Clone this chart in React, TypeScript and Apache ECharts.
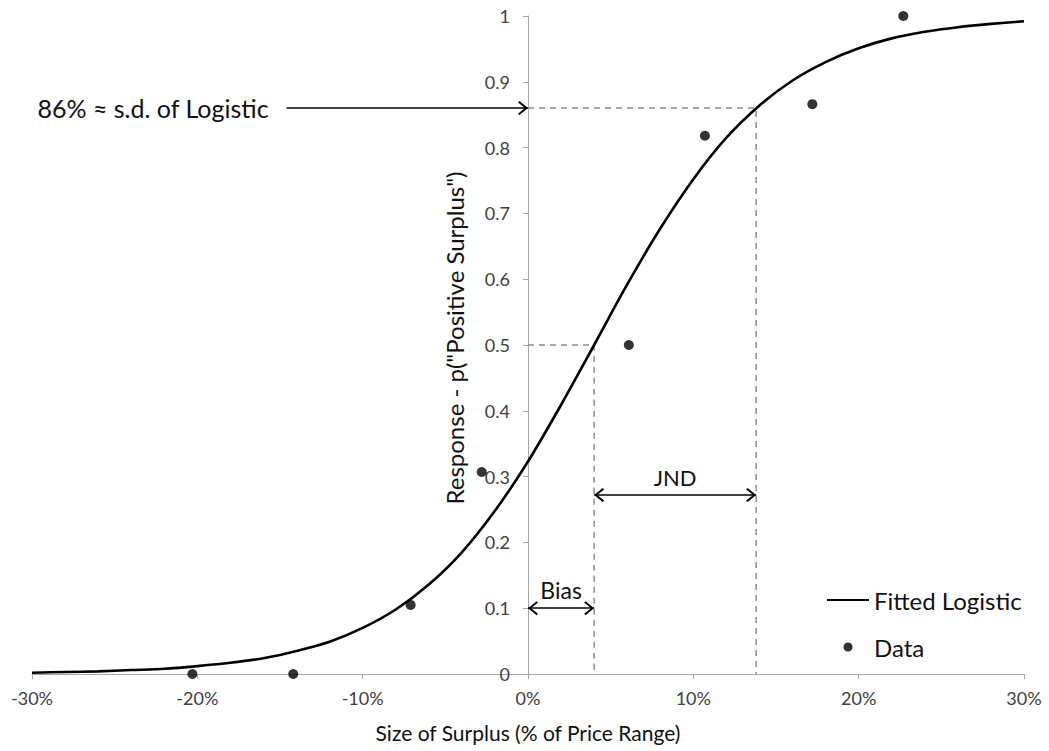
import React, { useEffect, useRef } from "react";
import * as echarts from "echarts";

// Fitted logistic curve (x in % of price range)
const curveX = [-30, -28, -26, -24, -22, -20, -18, -16, -14, -12, -10, -8, -6, -4, -2, 0, 2, 4, 6, 8, 10, 12, 14, 16, 18, 20, 22, 24, 26, 28, 30];
const curveY = [0.002, 0.003, 0.004, 0.006, 0.008, 0.012, 0.017, 0.024, 0.035, 0.049, 0.07, 0.098, 0.136, 0.185, 0.248, 0.323, 0.409, 0.5, 0.592, 0.677, 0.752, 0.815, 0.864, 0.902, 0.93, 0.951, 0.966, 0.976, 0.983, 0.988, 0.992];

// Observed data points
const dataX = [-20.3, -14.2, -7.1, -2.8, 6.1, 10.7, 17.2, 22.7];
const dataY = [0, 0, 0.105, 0.307, 0.5, 0.818, 0.866, 1.0];

// Axis ranges
const X_MIN = -30;
const X_MAX = 30;
const X_STEP = 10;
const Y_MIN = 0;
const Y_MAX = 1;
const Y_STEP = 0.1;

// Annotation values
const biasX = 4.0;
const jndEndX = 13.8;
const sdLevel = 0.86;
const midLevel = 0.5;
const jndArrowY = 0.272;
const biasArrowY = 0.1;
const sdArrowStartX = -14.6;

const FONT = "Lato, 'Noto Sans', sans-serif";
const CHEVRON = "path://M7,0 L14,8.6 L12.6,10 L7,3 L1.4,10 L0,8.6 Z";

const W = 1049;
const H = 751;
const GRID = { left: 32, right: 25, top: 16, bottom: 77 };

export default function App() {
  const ref = useRef<HTMLDivElement>(null);
  useEffect(() => {
    if (!ref.current) return;
    const chart = echarts.init(ref.current, null, { renderer: "svg" });
    const curve = curveX.map((x, i) => [x, curveY[i]]);
    const pts = dataX.map((x, i) => [x, dataY[i]]);
    const arrowEnd = { symbol: CHEVRON, symbolSize: [14, 10], symbolOffset: [0, 5] };
    // move the y axis onto x = 0
    const gridWidth = W - GRID.left - GRID.right;
    const yAxisOffset = -gridWidth * ((0 - X_MIN) / (X_MAX - X_MIN));
    chart.setOption({
      animation: false,
      textStyle: { fontFamily: FONT },
      grid: { ...GRID, containLabel: false, outerBoundsMode: "none" },
      legend: {
        orient: "vertical",
        left: 821,
        top: 583,
        itemWidth: 42,
        itemHeight: 9,
        itemGap: 23,
        data: [
          { name: "Fitted Logistic", itemStyle: { opacity: 0 } },
          { name: "Data" },
        ],
        textStyle: { fontSize: 24, color: "#111", fontFamily: FONT },
      },
      xAxis: {
        type: "value",
        min: X_MIN,
        max: X_MAX,
        interval: X_STEP,
        name: "Size of Surplus (% of Price Range)",
        nameLocation: "middle",
        nameGap: 48,
        nameTextStyle: { fontSize: 21, color: "#111", fontFamily: FONT },
        axisLine: { onZero: false, lineStyle: { color: "#a6a6a6", width: 1 } },
        axisTick: { show: true, inside: false, length: 5, lineStyle: { color: "#a6a6a6" } },
        axisLabel: { formatter: (v: number) => `${v}%`, fontSize: 18, color: "#404040", margin: 15, fontFamily: FONT },
        splitLine: { show: false },
      },
      yAxis: {
        type: "value",
        min: Y_MIN,
        max: Y_MAX,
        interval: Y_STEP,
        position: "left",
        offset: yAxisOffset,
        name: 'Response - p("Positive Surplus")',
        nameLocation: "middle",
        nameGap: 62,
        nameTextStyle: { fontSize: 24, color: "#111", fontFamily: FONT, padding: [0, 0, 0, 14] },
        axisLine: { show: true, onZero: false, lineStyle: { color: "#a6a6a6", width: 1 } },
        axisTick: { show: true, inside: false, length: 5, lineStyle: { color: "#a6a6a6" } },
        axisLabel: { fontSize: 18, color: "#404040", margin: 18, fontFamily: FONT },
        splitLine: { show: false },
      },
      series: [
        {
          name: "dash-sd",
          type: "line",
          data: [[0, sdLevel], [jndEndX, sdLevel], [jndEndX, 0]],
          symbol: "none",
          silent: true,
          lineStyle: { color: "#8c8c8c", width: 1.5, type: [6, 5] },
          z: 1,
        },
        {
          name: "dash-mid",
          type: "line",
          data: [[0, midLevel], [biasX, midLevel], [biasX, 0]],
          symbol: "none",
          silent: true,
          lineStyle: { color: "#8c8c8c", width: 1.5, type: [6, 5] },
          z: 1,
          markLine: {
            silent: true,
            symbol: [CHEVRON, CHEVRON],
            symbolSize: [14, 10],
            symbolOffset: [[0, 5], [0, 5]],
            lineStyle: { type: "solid", color: "#000", width: 1.6 },
            label: { show: false },
            data: [
              [
                {
                  coord: [sdArrowStartX, sdLevel],
                  symbol: "none",
                  label: {
                    show: true,
                    position: "start",
                    distance: 18,
                    formatter: "86% ≈ s.d. of Logistic",
                    fontSize: 25,
                    color: "#111",
                    fontFamily: FONT,
                  },
                },
                { coord: [0, sdLevel], ...arrowEnd },
              ],
              [
                {
                  coord: [biasX, jndArrowY],
                  ...arrowEnd,
                  label: { show: true, position: "middle", distance: 7, formatter: "JND", fontSize: 22, color: "#111", fontFamily: FONT },
                },
                { coord: [jndEndX, jndArrowY], ...arrowEnd },
              ],
              [
                {
                  coord: [0, biasArrowY],
                  ...arrowEnd,
                  label: { show: true, position: "middle", distance: 7, formatter: "Bias", fontSize: 23, color: "#111", fontFamily: FONT },
                },
                { coord: [biasX, biasArrowY], ...arrowEnd },
              ],
            ],
          },
        },
        {
          name: "Fitted Logistic",
          type: "line",
          data: curve,
          symbol: "none",
          smooth: 0.3,
          lineStyle: { color: "#000", width: 2.6 },
          itemStyle: { color: "#000" },
          z: 3,
        },
        {
          name: "Data",
          type: "scatter",
          data: pts,
          symbol: "circle",
          symbolSize: 10,
          itemStyle: { color: "#000" },
          z: 4,
        },
      ],
    });
    return () => chart.dispose();
  }, []);
  return <div ref={ref} style={{ width: W, height: H, position: "absolute", left: 0, top: 0 }} />;
}
